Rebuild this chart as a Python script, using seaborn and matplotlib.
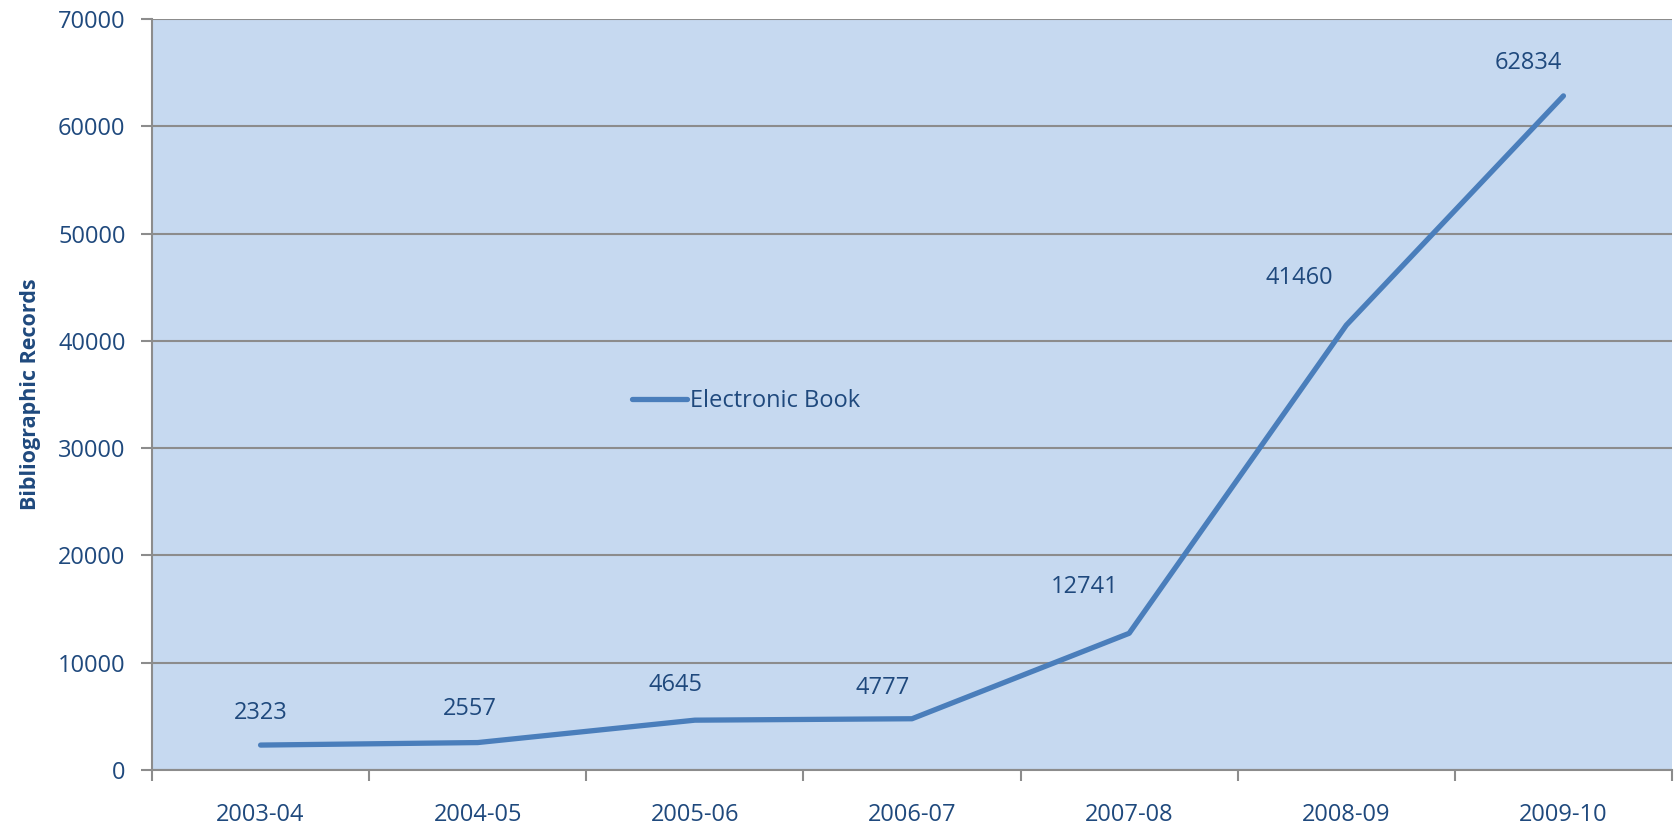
import matplotlib
matplotlib.use("Agg")
import matplotlib.pyplot as plt
import seaborn as sns
import pandas as pd
import numpy as np

categories = ["2003-04", "2004-05", "2005-06", "2006-07", "2007-08", "2008-09", "2009-10"]
values = [2323, 2557, 4645, 4777, 12741, 41460, 62834]
series_name = "Electronic Book"
y_ticks = [0, 10000, 20000, 30000, 40000, 50000, 60000, 70000]

# label offsets (points) as placed in the original
label_offsets = [(0, 23), (-6, 24), (-14, 25), (-21, 22), (-32, 33), (-34, 34), (-25, 24)]

text_color = "#1F497D"
line_color = "#4A7EBB"
bg_color = "#C6D9F0"
grid_color = "#8C8C8C"

sns.set_theme(style="white")
plt.rcParams["font.family"] = ["Open Sans", "DejaVu Sans"]

df = pd.DataFrame({"period": categories, "records": values, "series": series_name})

fig = plt.figure(figsize=(16.75, 8.27), dpi=100)
ax = fig.add_axes([152 / 1675, 57 / 827, 1520 / 1675, 751 / 827])
ax.set_facecolor(bg_color)

sns.lineplot(data=df, x="period", y="records", hue="series", palette=[line_color],
             linewidth=3.8, ax=ax, solid_capstyle="round", sort=False)

ax.set_xlim(-0.5, len(categories) - 0.5)
ax.set_ylim(0, 70000)
ax.set_yticks(y_ticks)
ax.set_yticklabels([str(v) for v in y_ticks])
ax.yaxis.grid(True, color=grid_color, linewidth=1.5)
ax.set_axisbelow(True)

ax.set_xticks(range(len(categories)))
ax.set_xticklabels(categories)
ax.set_xticks(np.arange(-0.5, len(categories)), minor=True)
ax.tick_params(axis="x", which="major", length=0, pad=24, labelsize=17, labelcolor=text_color)
ax.tick_params(axis="x", which="minor", length=8, width=1.5, color=grid_color, direction="out", bottom=True)
ax.tick_params(axis="y", length=8, width=1.5, color=grid_color, direction="out", left=True,
               pad=11, labelsize=17, labelcolor=text_color)

for side in ["top", "right"]:
    ax.spines[side].set_visible(False)
for side in ["left", "bottom"]:
    ax.spines[side].set_color(grid_color)
    ax.spines[side].set_linewidth(1.5)

ax.set_xlabel("")
ax.set_ylabel("Bibliographic Records", fontsize=15.5, fontweight="bold", color=text_color)
ax.yaxis.set_label_coords(-0.073, 0.5)

for i, (v, off) in enumerate(zip(values, label_offsets)):
    ax.annotate(str(v), xy=(i, v), xytext=off, textcoords="offset points",
                ha="center", va="center", fontsize=17, color=text_color)

leg = ax.legend(loc="center left", bbox_to_anchor=(0.316, 0.491), frameon=False,
                borderpad=0, borderaxespad=0, handlelength=2.3, handletextpad=0.15,
                fontsize=17)
for t in leg.get_texts():
    t.set_color(text_color)

fig.savefig("out.png", dpi=100, facecolor="white")
